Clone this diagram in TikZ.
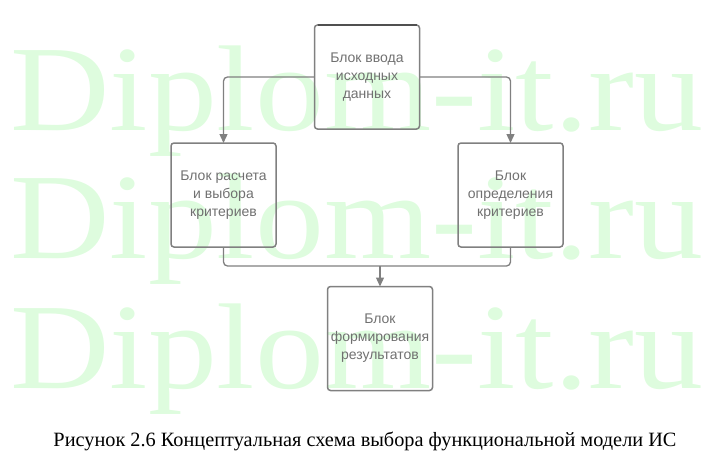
\documentclass[tikz,border=0pt]{standalone}
\usepackage{fontspec}
\usepackage{graphicx}
\setmainfont{Liberation Serif}
\newfontfamily\blockfont{Liberation Sans}
\usetikzlibrary{arrows.meta}
\definecolor{boxgray}{RGB}{128,128,128}
\definecolor{topgray}{RGB}{80,80,80}
\definecolor{txtgray}{RGB}{112,112,112}
\definecolor{markgreen}{RGB}{222,252,222}

\begin{document}
\begin{tikzpicture}[x=1pt, y=-1pt, >={Triangle[width=8pt,length=9pt]},
	block/.style={draw=boxgray, line width=1.5pt, rounded corners=3pt, minimum width=105pt, minimum height=104pt, inner sep=0pt, outer sep=0pt, align=center, text=txtgray, font=\blockfont\fontsize{14}{18}\selectfont},
	link/.style={draw=boxgray, line width=1.3pt, rounded corners=4pt},
	wmark/.style={inner sep=0pt, anchor=base west, text=markgreen, font=\fontsize{122}{122}\selectfont}]
	\useasboundingbox (0,0) rectangle (711,460);

	% watermark
	\node[wmark] (wm1) at (10,130) {\resizebox{693pt}{\height}{Diplom-it.ru}};
	\node[wmark] (wm2) at (10,258) {\resizebox{693pt}{\height}{Diplom-it.ru}};
	\node[wmark] (wm3) at (10,388) {\resizebox{693pt}{\height}{Diplom-it.ru}};

	\node at (367,77) [block] (inp) {Блок ввода\\исходных\\данных};
	\node at (223.5,195) [block] (calc) {Блок расчета\\и выбора\\критериев};
	\node at (510.5,195) [block] (crit) {Блок\\определения\\критериев};
	\node at (380,338.5) [block] (res) {Блок\\формирования\\результатов};
	\coordinate (join) at (380,266);

	% darker top edge of the input block
	\draw [topgray, line width=1.5pt] ([xshift=3pt]inp.north west) -- ([xshift=-3pt]inp.north east);

	\draw [link, ->] (inp.west) -| (calc.north);
	\draw [link, ->] (inp.east) -| (crit.north);
	\draw [link] (calc.south) |- (join) -| (crit.south);
	\draw [link, ->] (join) -- (res.north);

	\node at (365,446) [anchor=base, inner sep=0pt, font=\fontsize{20.3}{21}\selectfont] (cap) {Рисунок 2.6 Концептуальная схема выбора функциональной модели ИС};
\end{tikzpicture}
\end{document}
